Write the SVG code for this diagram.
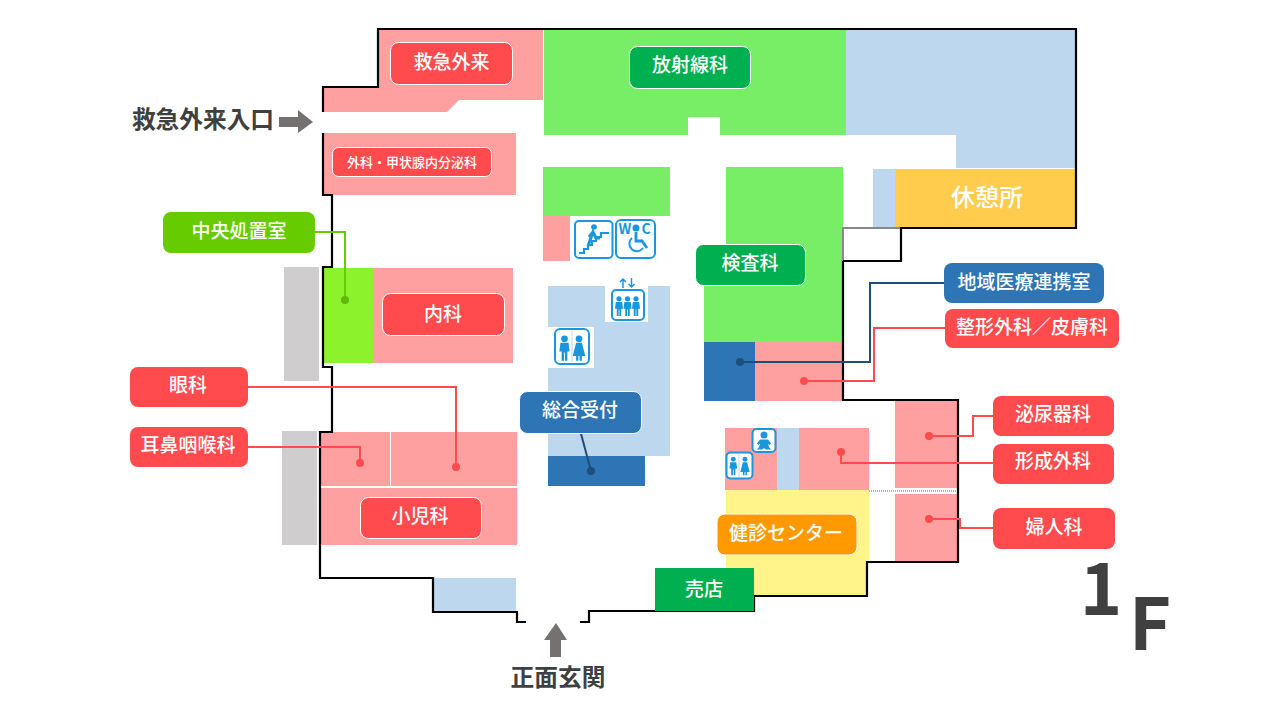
<svg xmlns="http://www.w3.org/2000/svg" width="1280" height="720" viewBox="0 0 1280 720">
<style>
text{font-family:"Noto Sans CJK JP","Noto Sans",sans-serif;text-anchor:middle;font-weight:500}
.lb{fill:#fff;font-size:19px}
.dk{fill:#404040;font-size:23.700px;font-weight:700}
.big{fill:#404040;font-size:72px;font-weight:700}
.icx{fill:#1a96dc;font-size:14px;font-weight:700}
.pk{fill:#ffa0a0}.gn{fill:#78ee66}.bl{fill:#bdd7ee}.gy{fill:#cfcdcd}.db{fill:#2e75b6}
.red{fill:#ff4b4e}.wl{stroke:#fff;stroke-width:1}
.wall{fill:none;stroke:#000;stroke-width:2.2}
.con{fill:none;stroke-width:2}
.ic{fill:#fff;stroke:#1a96dc;stroke-width:2}
.if{fill:#1a96dc}
.il{fill:none;stroke:#1a96dc}
</style>
<defs>
<g id="man"><circle cx="0" cy="-8" r="2.900"/><path d="M-3.500-4.500H3.500L4.500 3H2.500V11H.4V4H-.4V11H-2.500V3H-4.500Z"/></g>
<g id="wom"><circle cx="0" cy="-8" r="2.900"/><path d="M-2.500-4.500H2.500L5.500 7H2.500V11H.5V7H-.5V11H-2.500V7H-5.500Z"/></g>
</defs>
<g id="rooms">
<path class="pk" d="M324 87H378V30H543V100H459L447 112H324Z"/>
<path class="gn" d="M544 30H846V135H720V117H688V135H544Z"/>
<path class="bl" d="M846 30H1075V168H956V135H846Z"/>
<rect class="pk" x="324" y="133" width="192" height="62"/>
<rect class="gn" x="543" y="167" width="127" height="49"/>
<rect class="pk" x="543" y="216" width="27" height="45"/>
<rect class="bl" x="548" y="286" width="122" height="170"/>
<rect fill="#fff" x="605" y="286" width="43" height="36"/>
<rect fill="#fff" x="548" y="327" width="46" height="41"/>
<rect class="db" x="548" y="456" width="97" height="30"/>
<path class="gn" d="M726 167H843V342H704V245H726Z"/>
<rect class="db" x="704" y="342" width="51" height="59"/>
<rect class="pk" x="755" y="342" width="88" height="59"/>
<rect class="bl" x="873" y="169" width="22" height="59"/>
<rect fill="#ffcc4d" x="895" y="169" width="181" height="59"/>
<rect class="gy" x="284" y="267" width="35" height="114"/>
<rect class="gy" x="282" y="431" width="35" height="114"/>
<rect fill="#8cf22c" x="323" y="268" width="50" height="95"/>
<rect class="pk" x="373" y="268" width="140" height="95"/>
<rect class="pk" x="320" y="432" width="70" height="54"/>
<rect class="pk" x="391" y="432" width="126" height="54"/>
<rect class="pk" x="320" y="488" width="197" height="57"/>
<rect class="bl" x="434" y="578" width="82" height="34"/>
<rect class="pk" x="725" y="428" width="52" height="62"/>
<rect class="bl" x="777" y="428" width="22" height="62"/>
<rect class="pk" x="799" y="428" width="70" height="63"/>
<rect class="pk" x="895" y="400" width="63" height="88"/>
<rect class="pk" x="895" y="494" width="63" height="68"/>
<path fill="#fff48a" d="M726 490H869V562H867V596H754V568H726Z"/>
<path d="M869 491H958" stroke="#667" stroke-width="1" stroke-dasharray="1 1"/>
</g>
<g id="walls">
<path class="wall" d="M323 112V87H378V29H1076V228H901V261H843V400H958V562H867V596H754V611H655M655 611H589V622H580M526 622H517V612H433V578H320V432H332V367H323V267H332V195H323V133"/>
<path d="M843 261V228H900" fill="none" stroke="#888" stroke-width="2"/>
<path d="M901 228V261H843" fill="none" stroke="#000" stroke-width="2"/>
</g>
<g id="connectors">
<path class="con" stroke="#66cc00" d="M310 232H345V300"/><circle cx="345" cy="300" r="4" fill="#5fb80a"/>
<path class="con" stroke="#1f4e79" d="M950 283H870V362H740"/><circle cx="740" cy="362" r="4" fill="#1f4e79"/>
<path class="con" stroke="#ff4b4e" d="M950 328H874V381H804"/><circle cx="804" cy="381" r="4" fill="#ff4b4e"/>
<path class="con" stroke="#ff4b4e" d="M240 387H456V467"/><circle cx="456" cy="467" r="4" fill="#ff4b4e"/>
<path class="con" stroke="#ff4b4e" d="M240 447H360V463"/><circle cx="360" cy="463" r="4" fill="#ff4b4e"/>
<path class="con" stroke="#1f4e79" d="M580 430L591 471"/><circle cx="591" cy="471" r="4" fill="#1f4e79"/>
<path class="con" stroke="#ff4b4e" d="M1000 416H973V436H929"/><circle cx="929" cy="436" r="4" fill="#ff4b4e"/>
<path class="con" stroke="#ff4b4e" d="M1000 463H841V452"/><circle cx="841" cy="452" r="4" fill="#ff4b4e"/>
<path class="con" stroke="#ff4b4e" d="M1000 528H960V519H929"/><circle cx="929" cy="519" r="4" fill="#ff4b4e"/>
</g>
<g id="n-qq"><rect class="red wl" x="390.500" y="42.500" width="122" height="42" rx="8"/><text class="lb" x="451.500" y="69">救急外来</text></g>
<g id="n-hs"><rect x="629.500" y="46.500" width="121" height="42" rx="8" fill="#00b050" stroke="#fff"/><text class="lb" x="690" y="72">放射線科</text></g>
<g id="n-gk"><rect class="red wl" x="332.500" y="147.500" width="159" height="29" rx="6"/><text class="lb" x="412" y="166.500" style="font-size:13px">外科・甲状腺内分泌科</text></g>
<g id="n-ky"><text x="987" y="206" fill="#fff" font-size="24">休憩所</text></g>
<g id="n-cs"><rect x="163" y="212" width="152" height="41" rx="8" fill="#66cc00"/><text class="lb" x="239" y="238">中央処置室</text></g>
<g id="n-ks"><rect x="695.500" y="244.500" width="110" height="41" rx="8" fill="#00b050" stroke="#fff"/><text class="lb" x="750" y="270">検査科</text></g>
<g id="n-ci"><rect x="944" y="263" width="160" height="40" rx="8" fill="#2e75b6"/><text class="lb" x="1024" y="289">地域医療連携室</text></g>
<g id="n-sk"><rect class="red" x="945" y="309" width="174" height="39" rx="8"/><text class="lb" x="1032" y="334">整形外科／皮膚科</text></g>
<g id="n-nk"><rect class="red wl" x="382.500" y="293.500" width="122" height="42" rx="8"/><text class="lb" x="443" y="321">内科</text></g>
<g id="n-gn"><rect class="red" x="130" y="367" width="118" height="40" rx="8"/><text class="lb" x="188" y="392">眼科</text></g>
<g id="n-jb"><rect class="red" x="130" y="427" width="118" height="40" rx="8"/><text class="lb" x="188" y="452">耳鼻咽喉科</text></g>
<g id="n-su"><rect x="519.500" y="391.500" width="122" height="42" rx="8" fill="#2e75b6" stroke="#fff"/><text class="lb" x="580" y="417">総合受付</text></g>
<g id="n-sn"><rect class="red wl" x="360.500" y="497.500" width="121" height="41" rx="8"/><text class="lb" x="420" y="523">小児科</text></g>
<g id="n-hn"><rect class="red" x="993" y="396" width="121" height="40" rx="8"/><text class="lb" x="1053" y="421">泌尿器科</text></g>
<g id="n-ks2"><rect class="red" x="993" y="444" width="121" height="40" rx="8"/><text class="lb" x="1053" y="468">形成外科</text></g>
<g id="n-fj"><rect class="red" x="993" y="508" width="122" height="41" rx="8"/><text class="lb" x="1054" y="534">婦人科</text></g>
<g id="n-kn"><rect x="717" y="514" width="140" height="41" rx="8" fill="#ff9900" stroke="#fff"/><text class="lb" x="786" y="540">健診センター</text></g>
<g id="n-bt"><rect x="655" y="568" width="99" height="43" fill="#00b050"/><text class="lb" x="704" y="596">売店</text></g>
<g id="ic-stair"><rect class="ic" x="575" y="221" width="37.500" height="37" rx="4"/><path class="il" stroke-width="2.200" d="M579 253H584V249H588V245H592V241H596V237H601V233H609"/><circle class="if" cx="594" cy="227" r="2.800"/><path class="il" stroke-width="3" d="M588 246L593 232L596 238H600M593 232L589 237"/></g>
<g id="ic-wc"><rect class="ic" x="616" y="220" width="39" height="38" rx="5"/><circle class="if" cx="636" cy="228" r="3.500"/><path class="il" stroke-width="2.800" d="M636 232V241H642L647 248"/><path class="il" stroke-width="2" d="M632 238A7.500 7.500 0 1 0 643 248"/><text class="icx" x="625" y="234">W</text><text class="icx" x="646" y="234">C</text></g>
<g id="ic-ev"><rect class="ic" x="612" y="290" width="32" height="30" rx="4"/><path class="il" stroke-width="1.500" d="M623 288V279M620 282L623 279L626 282M631.500 278V287M628.500 284L631.500 287L634.500 284"/><use href="#man" class="if" transform="translate(619 306) scale(.9)"/><use href="#man" class="if" transform="translate(627.500 306) scale(.9)"/><use href="#man" class="if" transform="translate(636 306) scale(.9)"/></g>
<g id="ic-t1"><rect class="ic" x="555" y="329" width="34" height="35" rx="5"/><path d="M572 331V362" stroke="#bdd7ee" stroke-width="1"/><use href="#man" class="if" transform="translate(564.500 348) scale(1.150)"/><use href="#wom" class="if" transform="translate(579 348) scale(1.150)"/></g>
<g id="ic-baby"><rect class="ic" x="752.500" y="429" width="23" height="23" rx="4"/><circle class="if" cx="764" cy="435" r="3.500"/><path class="if" d="M760 439.500H768L771 443.500L769.500 445L768 444L769 447L771 449.500H766L764 448L762 449.500H757L759 447L760 444L758.500 445L757 443.500Z"/></g>
<g id="ic-t2"><rect class="ic" x="726.500" y="452.500" width="26" height="26" rx="4"/><path d="M739 454V477" stroke="#bdd7ee" stroke-width="1"/><use href="#man" class="if" transform="translate(733.300 466) scale(.85)"/><use href="#wom" class="if" transform="translate(745 466) scale(.85)"/></g>
<g id="arrows">
<text class="dk" x="203" y="128">救急外来入口</text>
<path fill="#767171" d="M279 117H298V110L313 122L298 133V127H279Z"/>
<path fill="#767171" d="M550 657V640H544L556 623L567 640H561V657Z"/>
<text class="dk" x="558" y="686">正面玄関</text>
<text class="big" x="1101" y="615">1</text>
<text class="big" x="1150" y="650">F</text>
</g>
</svg>
